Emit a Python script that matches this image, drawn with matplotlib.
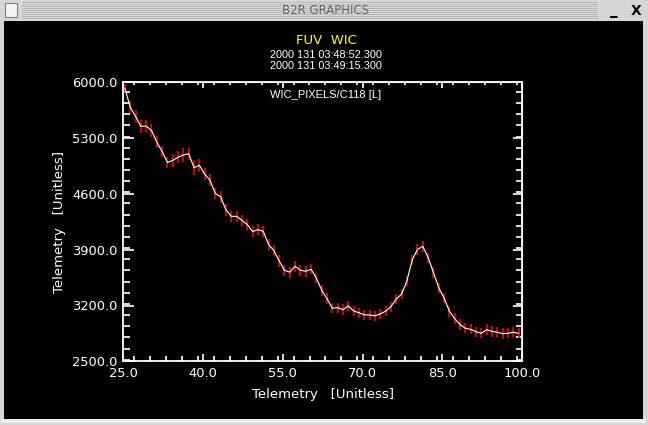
import matplotlib
matplotlib.use("Agg")
import matplotlib.pyplot as plt
from matplotlib.patches import Rectangle
from matplotlib.ticker import MultipleLocator, FormatStrFormatter

# ---- data ----
x_vals = [25.3, 26.3, 27.3, 28.3, 29.3, 30.3, 31.3, 32.3, 33.3, 34.3,
          35.3, 36.3, 37.3, 38.3, 39.3, 40.3, 41.3, 42.3, 43.3, 44.3,
          45.3, 46.3, 47.3, 48.3, 49.3, 50.3, 51.3, 52.3, 53.3, 54.3,
          55.3, 56.3, 57.3, 58.3, 59.3, 60.3, 61.3, 62.3, 63.3, 64.3,
          65.3, 66.3, 67.3, 68.3, 69.3, 70.3, 71.3, 72.3, 73.3, 74.3,
          75.3, 76.3, 77.3, 78.3, 79.3, 80.3, 81.3, 82.3, 83.3, 84.3,
          85.3, 86.3, 87.3, 88.3, 89.3, 90.3, 91.3, 92.3, 93.3, 94.3,
          95.3, 96.3, 97.3, 98.3, 99.3]
y_vals = [5925, 5688, 5573, 5448, 5450, 5398, 5249, 5132, 4994, 5021,
          5061, 5088, 5103, 4929, 4959, 4847, 4772, 4605, 4563, 4399,
          4319, 4319, 4269, 4216, 4128, 4151, 4132, 3965, 3890, 3760,
          3641, 3618, 3692, 3641, 3630, 3655, 3541, 3391, 3284, 3165,
          3173, 3148, 3194, 3131, 3110, 3083, 3081, 3070, 3095, 3128,
          3185, 3283, 3342, 3507, 3771, 3903, 3943, 3800, 3614, 3420,
          3294, 3127, 3035, 2960, 2914, 2901, 2871, 2851, 2897, 2876,
          2864, 2846, 2851, 2864, 2851]
y_err = [55, 77, 79, 79, 77, 79, 77, 73, 73, 79,
         77, 84, 77, 98, 79, 73, 73, 71, 73, 75,
         67, 67, 67, 69, 73, 67, 69, 69, 69, 73,
         67, 69, 67, 67, 69, 65, 63, 67, 69, 63,
         63, 67, 63, 63, 63, 65, 63, 63, 63, 63,
         63, 63, 65, 63, 63, 69, 67, 63, 65, 67,
         67, 67, 67, 67, 63, 63, 63, 63, 67, 67,
         63, 67, 63, 63, 63]
x_ticks = [25.0, 40.0, 55.0, 70.0, 85.0, 100.0]
y_ticks = [2500.0, 3200.0, 3900.0, 4600.0, 5300.0, 6000.0]
title_main = "FUV  WIC"
time_start = "2000 131 03:48:52.300"
time_end = "2000 131 03:49:15.300"
panel_label = "WIC_PIXELS/C118 [L]"
axis_label = "Telemetry   [Unitless]"
window_title = "B2R GRAPHICS"

W, H = 648, 425
fig = plt.figure(figsize=(W / 100, H / 100), dpi=100)
fig.patch.set_facecolor("#d6d6d6")

# ---- window chrome ----
chrome = fig.add_axes([0, 0, 1, 1], zorder=0)
chrome.set_xlim(0, W)
chrome.set_ylim(H, 0)
chrome.axis("off")
chrome.add_patch(Rectangle((0, 0), W, H, color="#d6d6d6", lw=0))
chrome.add_patch(Rectangle((1, 419), 645, 4, color="#ececec", lw=0))
for i in range(2, 19, 2):
    chrome.add_patch(Rectangle((22, i), 576, 1, color="#b8b8b8", lw=0))
    chrome.add_patch(Rectangle((22, i + 1), 576, 1, color="#d9d9d9", lw=0))
chrome.add_patch(Rectangle((5, 3), 12, 14, facecolor="#f4f4f4",
                           edgecolor="#808080", lw=0.8))
chrome.add_patch(Rectangle((4, 21), 639, 398, color="black", lw=0))
chrome.text(326, 10.5, window_title, color="#6a6a6a", fontsize=8.5,
            ha="center", va="center", family="DejaVu Sans")
chrome.text(614, 10, "_", color="black", fontsize=11, ha="center",
            va="center", fontweight="bold")
chrome.text(636, 10.5, "X", color="black", fontsize=10, ha="center",
            va="center", fontweight="bold")

# ---- plot ----
ax = fig.add_axes([123.3 / W, 1 - 361.3 / H, 399 / W, 279 / H], zorder=2)
ax.set_facecolor("none")
ax.errorbar(x_vals, y_vals, yerr=y_err, fmt="none", ecolor="#ff0000",
            elinewidth=1.2, capsize=0, zorder=2)
ax.plot(x_vals, y_vals, color="white", lw=0.8, zorder=3)
ax.set_xlim(25, 100)
ax.set_ylim(2500, 6000)

for s in ax.spines.values():
    s.set_color("white")
    s.set_linewidth(1.3)
ax.set_xticks(x_ticks)
ax.set_yticks(y_ticks)
ax.xaxis.set_minor_locator(MultipleLocator(3))
ax.yaxis.set_minor_locator(MultipleLocator(140))
ax.xaxis.set_major_formatter(FormatStrFormatter("%.1f"))
ax.yaxis.set_major_formatter(FormatStrFormatter("%.1f"))
ax.tick_params(axis="x", which="major", direction="in", length=5.2, width=1.2,
               colors="white", labelsize=9.4, pad=4)
ax.tick_params(axis="x", which="minor", direction="in", length=3.6, width=1.2,
               colors="white")
ax.tick_params(axis="y", which="major", direction="in", length=8, width=1.2,
               colors="white", labelsize=9.4, pad=4)
ax.tick_params(axis="y", which="minor", direction="in", length=5, width=1.2,
               colors="white")
for lab in ax.get_xticklabels() + ax.get_yticklabels():
    lab.set_family("DejaVu Sans")

top = ax.secondary_xaxis("top")
top.set_xticks(x_ticks)
top.xaxis.set_minor_locator(MultipleLocator(3))
top.tick_params(axis="x", which="major", direction="in", length=4.2,
                width=1.2, colors="white", labeltop=False)
top.tick_params(axis="x", which="minor", direction="in", length=2.4,
                width=1.2, colors="white")
top.spines["top"].set_color("white")

right = ax.secondary_yaxis("right")
right.set_yticks(y_ticks)
right.yaxis.set_minor_locator(MultipleLocator(140))
right.tick_params(axis="y", which="major", direction="in", length=6.5,
                  width=1.2, colors="white", labelright=False)
right.tick_params(axis="y", which="minor", direction="in", length=4.1,
                  width=1.2, colors="white")
right.spines["right"].set_color("white")

ax.set_xlabel(axis_label, color="white", fontsize=9.5, labelpad=6,
              family="DejaVu Sans")
ax.set_ylabel(axis_label, color="white", fontsize=9.5, labelpad=4.5,
              family="DejaVu Sans")

ax.text(0.508, 0.955, panel_label, transform=ax.transAxes, color="white",
        fontsize=8, ha="center", va="center", family="Liberation Sans")
fig.text(326 / W, 1 - 40 / H, title_main, color="#ffff00", fontsize=9.5,
         ha="center", va="center", family="DejaVu Sans")
fig.text(326 / W, 1 - 54.5 / H, time_start, color="white", fontsize=7.8,
         ha="center", va="center", family="Liberation Sans")
fig.text(326 / W, 1 - 66 / H, time_end, color="white", fontsize=7.8,
         ha="center", va="center", family="Liberation Sans")

fig.savefig("out.png", dpi=100, facecolor=fig.get_facecolor())
